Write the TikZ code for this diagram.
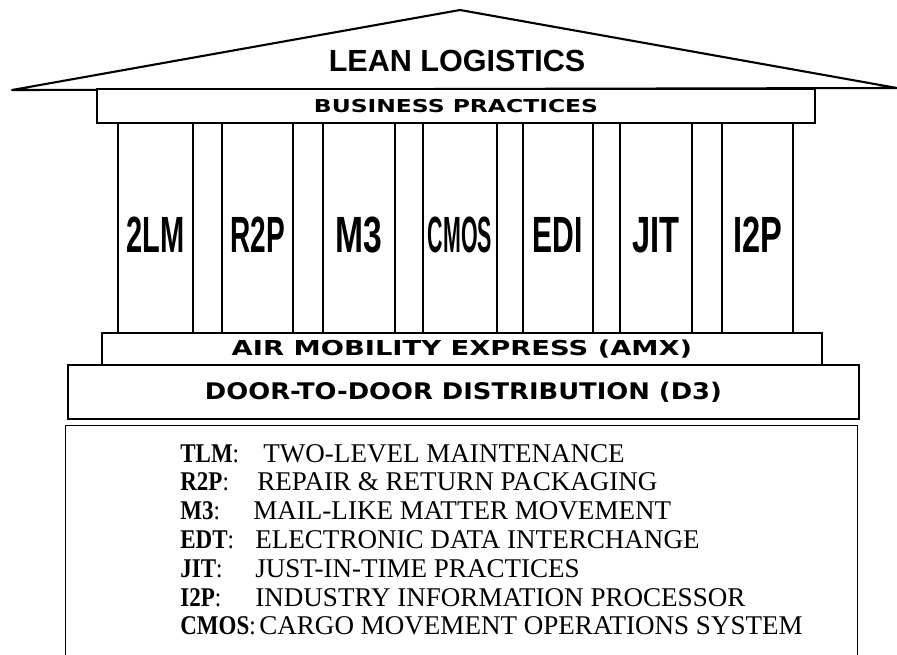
\documentclass[tikz,border=0pt]{standalone}
\usepackage{graphicx}
\usepackage{fontspec}
\setmainfont{Liberation Serif}
\newfontfamily\pillarfont{Liberation Sans}
\newfontfamily\widefont{DejaVu Sans}
\usetikzlibrary{positioning}
\newcommand{\px}{0.02cm}
\tikzset{
house_part/.style={rectangle, draw, line width=1.6pt, inner sep=0pt, fill=white},
pillar/.style={rectangle, draw, line width=1.6pt, inner sep=0pt, minimum height=210*\px},
pillar_label/.style={inner sep=0pt, font=\pillarfont\bfseries\fontsize{29}{30}\selectfont},
wide_label/.style={inner sep=0pt, font=\widefont\bfseries},
legend_box/.style={rectangle, draw, line width=0.8pt, inner sep=0pt, anchor=north west},
legend_text/.style={anchor=base west, inner sep=0pt, font=\fontsize{15.4}{17}\selectfont}
}

\begin{document}
\begin{tikzpicture}[x=\px, y=-\px]
    \useasboundingbox (0,0) rectangle (897,654);
    % roof
    \coordinate (roof_left) at (12,90);
    \coordinate (roof_top) at (460,10);
    \coordinate (roof_right) at (897,88);
    \draw[line width=1.2pt, line join=round] (roof_left) -- (roof_top) -- (roof_right) -- cycle;
    \node[pillar_label, font=\pillarfont\bfseries\fontsize{17.4}{18}\selectfont] (title) at (457,61) {LEAN LOGISTICS};
    % pillars
    \foreach \x/\w/\name/\sx [count=\i] in {155.5/75/2LM/0.57, 257.5/71/R2P/0.55, 359/72/M3/0.66, 460/74/CMOS/0.42, 558/70/EDI/0.59, 656/72/JIT/0.64, 757.5/71/I2P/0.64} {
        \node[pillar, minimum width=\w*\px] (pillar_\i) at (\x,228) {};
        \node[pillar_label] (label_\i) at (\x,235) {\scalebox{\sx}[1]{\name}};
    }
    % beams and steps
    \node[house_part, minimum width=718*\px, minimum height=34*\px] (business) at (456,106)
        {\fontsize{10.1}{11}\selectfont\widefont\bfseries\scalebox{1.32}[1]{BUSINESS PRACTICES}};
    \node[house_part, minimum width=720*\px, minimum height=32*\px] (amx) at (462,349)
        {\fontsize{11.7}{12}\selectfont\widefont\bfseries\scalebox{1.33}[1]{AIR MOBILITY EXPRESS (AMX)}};
    \node[house_part, minimum width=791*\px, minimum height=54*\px] (d3) at (463.5,392)
        {\fontsize{13}{14}\selectfont\widefont\bfseries\scalebox{1.13}[1]{DOOR-TO-DOOR DISTRIBUTION (D3)}};
    % legend
    \node[legend_box, minimum width=792*\px, minimum height=240*\px] (legend) at (65,425) {};
    \foreach \abbr/\desc/\dx [count=\i] in {TLM/TWO-LEVEL MAINTENANCE/263, R2P/REPAIR \& RETURN PACKAGING/257, M3/MAIL-LIKE MATTER MOVEMENT/253, EDT/ELECTRONIC DATA INTERCHANGE/255, JIT/JUST-IN-TIME PRACTICES/255, I2P/INDUSTRY INFORMATION PROCESSOR/255, CMOS/CARGO MOVEMENT OPERATIONS SYSTEM/259} {
        \node[legend_text] (abbr_\i) at (180,{462+28.8*(\i-1)}) {\scalebox{0.85}[1]{\textbf{\abbr}:}};
        \node[legend_text] (desc_\i) at (\dx,{462+28.8*(\i-1)}) {\desc};
    }
\end{tikzpicture}
\end{document}
